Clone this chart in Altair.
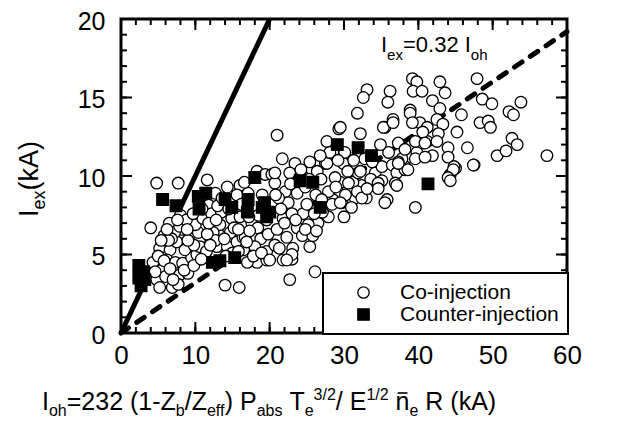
import altair as alt
import pandas as pd

# ---------------- data ----------------
types = ["Co-injection", "Counter-injection"]

co_x = [4.8, 7.7, 11.6, 11.8, 4.0, 16.0, 15.6, 17.1, 18.3, 19.4,
        5.2, 6.6, 7.5, 9.3, 10.6, 4.3, 6.2, 7.3, 8.3, 9.5, 10.2, 4.8, 5.2, 6.9, 7.9, 9.0, 7.7, 14.0, 15.9,
        18.3, 17.0, 19.6, 19.6, 12.9, 14.3, 15.6, 16.4, 13.3, 10.6,
        9.3, 11.3, 13.3, 14.9, 17.6, 18.4, 19.6, 10.4, 8.2, 12.4, 14.7, 16.7,
        5.8, 6.5, 7.2, 8.0, 5.5, 6.0, 8.6, 9.8, 11.5,
        6.8, 7.9, 9.0, 10.0, 11.0, 12.2, 13.5, 12.7, 15.2, 16.0, 17.3, 18.8, 18.0, 16.5, 15.0, 17.8, 5.0,
        6.4, 8.8, 10.9, 13.0, 14.5, 16.2, 18.5, 19.0, 16.6, 14.3, 12.7, 13.6,
        4.6, 5.8, 6.6, 7.0, 8.5, 9.8, 10.8, 5.4, 6.2, 7.6, 8.9, 9.7, 11.6, 12.0, 13.9, 14.1, 15.8,
        16.9, 18.9, 19.8, 11.8, 12.8, 15.8, 17.2,
        22.7, 26.1, 21.8, 23.0, 20.0, 25.4, 23.1, 23.0, 26.5, 25.2, 23.7, 22.3, 24.4, 27.9, 29.7, 31.5,
        32.4, 30.6, 23.4, 25.7, 27.5, 29.9, 20.3, 20.7, 22.1, 23.7, 22.5, 28.5, 27.9, 29.5, 31.2, 31.9,
        34.2, 35.1, 35.1, 38.2, 37.8, 27.1, 24.5, 21.8, 23.0, 28.4, 25.8, 21.0, 20.7, 22.3,
        21.0, 21.7, 29.3, 27.7, 25.4, 22.7, 20.7, 26.4, 27.7, 28.5, 28.1, 30.1,
        24.8, 26.2, 25.0, 21.2, 24.0, 26.9, 28.8, 30.5, 32.8, 31.0, 33.0, 30.0, 26.0,
        21.3, 22.0, 23.5, 24.8, 26.3, 22.8, 25.3, 27.0, 28.9, 30.2, 31.8, 33.6, 24.2, 26.8, 29.2, 31.3,
        20.8, 21.5, 33.8, 36.0,
        39.2, 39.8, 42.9, 47.9, 33.1, 32.6, 36.2, 35.9, 39.3, 40.5, 43.6, 41.9, 42.9, 48.6, 49.9, 53.8,
        52.2, 52.8, 48.3, 49.4, 49.7, 45.2, 31.8, 36.6, 38.9, 35.5, 40.2, 41.2, 42.5, 43.3, 45.8, 32.2,
        42.7, 41.2, 52.6, 53.3, 50.6, 51.8, 57.3, 46.6, 47.5, 45.0, 44.3, 44.0, 41.9, 39.8, 39.6, 40.6,
        37.3, 36.5, 37.1, 34.9, 37.3, 38.2, 34.6, 36.9, 32.2, 30.6, 29.5, 35.3, 36.6, 38.9, 39.2, 40.6,
        42.5, 39.6, 40.9, 40.9, 44.0, 44.8, 38.2, 44.7, 44.0, 47.4, 39.6, 37.1, 35.8, 32.4, 29.5, 44.3,
        38.6, 37.3, 34.6, 33.1, 35.5]
co_y = [9.55, 9.55, 9.75, 8.15, 6.7, 9.4, 8.8, 8.9, 10.3, 10.1,
        5.4, 5.3, 5.8, 6.2, 6.0, 4.5, 4.65, 4.5, 4.45, 4.8, 5.0, 3.4, 2.9, 2.9, 3.7, 3.8, 3.1, 3.05, 2.9,
        4.5, 4.5, 4.65, 5.2, 5.5, 5.5, 5.8, 6.1, 6.2, 5.5,
        7.1, 6.9, 6.9, 7.3, 7.0, 6.7, 7.2, 6.4, 6.6, 6.4, 6.4, 6.1,
        6.2, 7.0, 6.4, 7.5, 4.0, 3.6, 5.3, 5.6, 5.2,
        6.0, 6.8, 5.9, 6.9, 7.3, 7.6, 7.7, 5.9, 6.7, 7.4, 6.5, 6.0, 5.5, 5.3, 5.1, 4.9, 4.9,
        5.9, 7.2, 7.9, 8.1, 7.9, 8.2, 7.5, 8.8, 9.6, 9.3, 8.9, 8.6,
        3.9, 4.6, 4.1, 3.4, 4.0, 4.3, 4.7, 5.9, 6.6, 7.2, 6.6, 7.6, 6.3, 5.6, 6.0, 4.9, 5.2,
        5.8, 5.1, 6.3, 7.0, 7.2, 6.6, 7.4,
        3.4, 3.9, 4.65, 4.7, 4.65, 5.5, 5.4, 5.0, 7.0, 6.9, 6.7, 6.1, 6.2, 7.4, 8.3, 8.6,
        9.4, 9.2, 10.8, 10.4, 10.8, 10.8, 10.1, 9.55, 9.0, 8.9, 8.3, 8.5, 9.0, 9.6, 9.6, 10.2,
        10.2, 10.6, 9.7, 10.6, 11.1, 7.7, 7.6, 7.3, 7.6, 8.2, 6.2, 6.6, 5.6, 4.65,
        12.6, 11.1, 13.0, 12.2, 10.9, 10.2, 10.2, 10.3, 10.8, 11.5, 11.5, 11.5,
        9.3, 8.8, 8.2, 8.6, 9.8, 9.8, 9.9, 10.3, 11.1, 8.0, 8.6, 7.4, 7.6,
        5.4, 7.0, 7.2, 6.6, 6.5, 9.5, 9.8, 8.5, 9.3, 8.8, 9.0, 9.8, 10.4, 11.3, 11.0, 11.0,
        8.8, 7.9, 10.9, 11.5,
        16.2, 16.0, 16.0, 16.2, 15.5, 15.0, 15.4, 14.7, 15.4, 15.4, 15.3, 14.8, 14.3, 14.9, 14.6, 14.7,
        14.1, 13.9, 13.4, 13.5, 13.1, 12.8, 14.0, 13.6, 14.2, 13.1, 13.4, 13.1, 13.6, 13.3, 13.9, 12.7,
        12.7, 12.2, 12.4, 12.0, 11.3, 11.6, 11.3, 11.8, 10.7, 10.5, 10.1, 11.8, 11.3, 11.5, 11.1, 12.1,
        10.9, 10.7, 10.2, 12.0, 12.1, 11.7, 9.55, 9.55, 10.3, 9.55, 13.1, 13.1, 13.4, 14.0, 13.4, 12.8,
        12.2, 12.2, 12.1, 11.2, 11.2, 10.6, 10.4, 10.4, 9.9, 10.7, 8.0, 9.4, 8.5, 8.6, 8.3, 9.7,
        10.4, 10.8, 9.2, 9.2, 8.3]

ctr_x = [2.4, 3.0, 2.4, 3.2, 2.7,
         5.6, 7.4, 10.4, 11.4, 10.5, 14.0, 14.9, 17.0, 18.0, 17.1, 19.0, 19.6, 20.0, 19.3,
         12.3, 13.3, 15.3, 24.1, 25.8, 26.8, 29.1, 31.9, 33.7, 41.3]
ctr_y = [4.3, 3.9, 3.5, 3.4, 3.0,
         8.5, 8.1, 8.7, 8.9, 7.9, 8.5, 8.0, 7.7, 9.9, 8.5, 8.0, 7.4, 7.7, 8.3,
         4.5, 4.6, 4.8, 9.7, 9.6, 8.0, 12.0, 11.8, 11.3, 9.5]

solid_x = [0, 20]
solid_y = [0, 20]
dash_x = [0, 60]
dash_y = [0, 19.2]

x_ticks = [0, 10, 20, 30, 40, 50, 60]
y_ticks = [0, 5, 10, 15, 20]
x_minor = list(range(0, 61, 2))
y_minor = list(range(0, 21, 1))

# ---------------- layout ----------------
W, H = 446, 314
FONT = "Liberation Sans"
xs = alt.Scale(domain=[0, 60], nice=False, zero=False)
ys = alt.Scale(domain=[0, 20], nice=False, zero=False)
AX = alt.Axis(values=x_ticks, title=None, ticks=False, domain=False, grid=False, labelFlush=False,
              labelFontSize=26, labelFont=FONT, labelColor="black", labelPadding=9)
AY = alt.Axis(values=y_ticks, title=None, ticks=False, domain=False, grid=False, labelFlush=False,
              labelFontSize=25, labelFont=FONT, labelColor="black", labelPadding=16, labelOffset=2)

pts = pd.DataFrame({
    "x": co_x + ctr_x,
    "y": co_y + ctr_y,
    "type": [types[0]] * len(co_x) + [types[1]] * len(ctr_x),
})

leg = alt.Legend(title=None, orient="none", legendX=202, legendY=254, fillColor="white",
                 strokeColor="black", padding=9, rowPadding=0, symbolOffset=21, labelOffset=26,
                 labelFontSize=21, labelFont=FONT, labelColor="black", labelLimit=400,
                 symbolSize=130, symbolStrokeWidth=1.3)

scatter = alt.Chart(pts).mark_point(filled=True, strokeWidth=1.3, opacity=1, size=135).encode(
    x=alt.X("x:Q", scale=xs, axis=AX),
    y=alt.Y("y:Q", scale=ys, axis=AY),
    fill=alt.Fill("type:N", scale=alt.Scale(domain=types, range=["white", "black"]), legend=leg),
    stroke=alt.Stroke("type:N", scale=alt.Scale(domain=types, range=["black", "black"]), legend=leg),
    shape=alt.Shape("type:N", scale=alt.Scale(domain=types, range=["circle", "square"]), legend=leg),
    order=alt.Order("o:Q"),
).transform_calculate(o="datum.type == 'Co-injection' ? 0 : 1")

solid = alt.Chart(pd.DataFrame({"x": solid_x, "y": solid_y})).mark_line(
    color="black", strokeWidth=5).encode(
    x=alt.X("x:Q", scale=xs, axis=AX), y=alt.Y("y:Q", scale=ys, axis=AY))
dashed = alt.Chart(pd.DataFrame({"x": dash_x, "y": dash_y})).mark_line(
    color="black", strokeWidth=5, strokeDash=[9, 10], strokeCap="round").encode(
    x=alt.X("x:Q", scale=xs, axis=AX), y=alt.Y("y:Q", scale=ys, axis=AY))


def xticks(vals, length):
    df = pd.DataFrame({"x": vals})
    b = alt.Chart(df).mark_rule(color="black", strokeWidth=2).encode(
        x=alt.X("x:Q", scale=xs, axis=AX), y=alt.value(H), y2=alt.value(H - length))
    t = alt.Chart(df).mark_rule(color="black", strokeWidth=2).encode(
        x=alt.X("x:Q", scale=xs, axis=AX), y=alt.value(0), y2=alt.value(length))
    return [b, t]


def yticks(vals, length):
    df = pd.DataFrame({"y": vals})
    l = alt.Chart(df).mark_rule(color="black", strokeWidth=2).encode(
        y=alt.Y("y:Q", scale=ys, axis=AY), x=alt.value(0), x2=alt.value(length))
    r = alt.Chart(df).mark_rule(color="black", strokeWidth=2).encode(
        y=alt.Y("y:Q", scale=ys, axis=AY), x=alt.value(W), x2=alt.value(W - length))
    return [l, r]


ticks = xticks(x_minor, 6) + xticks(x_ticks, 11) + yticks(y_minor, 6) + yticks(y_ticks, 11)

# Arial / Liberation Sans advance widths (per 1000 em)
AW = {" ": 278, "(": 333, ")": 333, "-": 333, "/": 278, "=": 584, ".": 278, "A": 667, "E": 667,
      "I": 278, "P": 667, "R": 722, "T": 611, "Z": 611, "a": 556, "b": 556, "e": 556, "f": 278,
      "h": 556, "k": 500, "n": 556, "o": 556, "s": 500, "x": 500}
for d in "0123456789":
    AW[d] = 556


def tw(s, size):
    return sum(AW.get(c, 556) for c in s) * size / 1000.0


def txt(s, px, py, size, angle=0, align="left"):
    return alt.Chart(pd.DataFrame({"t": [s]})).mark_text(
        align=align, baseline="alphabetic", font=FONT, fontSize=size, color="black",
        angle=angle).encode(text="t:N", x=alt.value(px), y=alt.value(py))


def text_run(segs, x0, y0, main, small, sub_dy, sup_dy):
    layers = []
    pos = x0
    for s, kind in segs:
        size = main if kind == "n" else small
        if kind == "bar":  # macron over the preceding letter, drawn as a short rule
            nw = tw("n", main)
            layers.append(alt.Chart(pd.DataFrame({"k": [0]})).mark_rule(
                color="black", strokeWidth=1.6).encode(
                x=alt.value(pos - nw + 2), x2=alt.value(pos - 2), y=alt.value(y0 - 17)))
            continue
        dy = 0 if kind == "n" else (sub_dy if kind == "sub" else sup_dy)
        lead = len(s) - len(s.lstrip(" "))
        pos += tw(" " * lead, size)          # SVG collapses leading spaces
        s = s.lstrip(" ")
        layers.append(txt(s, pos, y0 + dy, size))
        pos += tw(s, size)
    return layers


xtitle = [("I", "n"), ("oh", "sub"), ("=232 (1-Z", "n"), ("b", "sub"), ("/Z", "n"), ("eff", "sub"),
          (") P", "n"), ("abs", "sub"), (" T", "n"), ("e", "sub"), ("3/2", "sup"), ("/ E", "n"),
          ("1/2", "sup"), (" n", "n"), ("", "bar"), ("e", "sub"), (" R (kA)", "n")]
ytitle = [("I", "n"), ("ex", "sub"), ("(kA)", "n")]
annot = [("I", "n"), ("ex", "sub"), ("=0.32 I", "n"), ("oh", "sub")]

texts = []
texts += text_run(xtitle, -79, 391, 25, 16, 6, -10)
pos = 198
for s, kind in ytitle:
    size = 27 if kind == "n" else 18
    dx = 0 if kind == "n" else 7
    texts.append(txt(s, -83 + dx, pos, size, angle=270))
    pos -= tw(s, size)
texts += text_run(annot, 260, 33, 22, 15, 8, -8)

chart = alt.layer(*ticks, solid, dashed, scatter, *texts).properties(
    width=W, height=H,
    autosize=alt.AutoSizeParams(type="none"),
    padding={"left": 113, "top": 11, "right": 60, "bottom": 86},
    background="white",
).configure_view(stroke="black", strokeWidth=3).configure_legend(strokeWidth=2)

chart.save("out.html", embed_options={"renderer": "svg", "actions": False})
